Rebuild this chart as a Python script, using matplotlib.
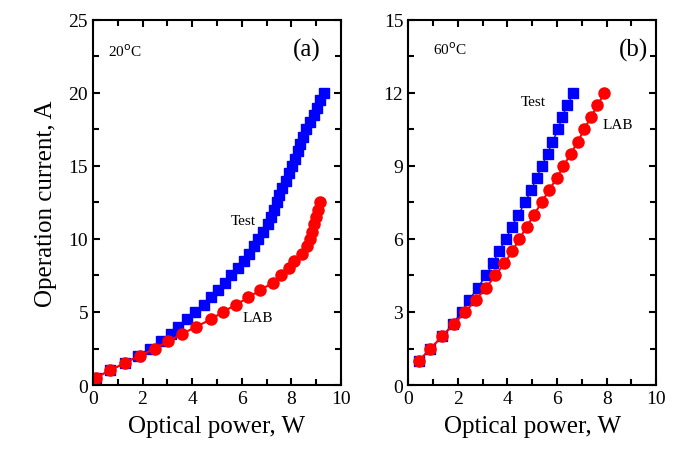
import matplotlib
matplotlib.use("Agg")
import matplotlib.pyplot as plt
from matplotlib.ticker import MultipleLocator

plt.rcParams["font.family"] = ["Liberation Serif", "DejaVu Serif"]

# Panel (a), 20 C
a_test_x = [0.12, 0.7, 1.3, 1.8, 2.3, 2.76, 3.15, 3.45, 3.8, 4.12,
            4.48, 4.77, 5.03, 5.31, 5.58, 5.85, 6.1, 6.3, 6.48, 6.65,
            6.85, 7.04, 7.17, 7.3, 7.4, 7.5, 7.63, 7.77, 7.9, 8.02,
            8.15, 8.25, 8.36, 8.48, 8.6, 8.76, 8.9, 9.02, 9.16, 9.33]
a_test_y = [0.5 * (i + 1) for i in range(40)]
a_lab_x = [0.12, 0.67, 1.28, 1.88, 2.49, 3.04, 3.6, 4.17, 4.76, 5.23,
           5.77, 6.26, 6.75, 7.24, 7.6, 7.9, 8.12, 8.42, 8.62, 8.74,
           8.82, 8.92, 8.99, 9.07, 9.17]
a_lab_y = [0.5 * (i + 1) for i in range(25)]

# Panel (b), 60 C
b_test_x = [0.44, 0.9, 1.37, 1.79, 2.15, 2.46, 2.8, 3.14, 3.41, 3.66,
            3.94, 4.17, 4.44, 4.71, 4.95, 5.18, 5.38, 5.62, 5.81, 6.05,
            6.19, 6.42, 6.66]
b_test_y = [1 + 0.5 * i for i in range(23)]
b_lab_x = [0.44, 0.9, 1.37, 1.84, 2.29, 2.73, 3.14, 3.51, 3.88, 4.2,
           4.48, 4.78, 5.07, 5.38, 5.67, 5.99, 6.26, 6.55, 6.84, 7.09,
           7.36, 7.63, 7.91]
b_lab_y = [1 + 0.5 * i for i in range(23)]

fig = plt.figure(figsize=(6.78, 4.56), dpi=100)
ax1 = fig.add_axes([0.137, 0.1535, 0.366, 0.8005])
ax2 = fig.add_axes([0.602, 0.1535, 0.366, 0.8005])


def style(ax, ymax, ymajor):
    ax.set_xlim(0, 10)
    ax.set_ylim(0, ymax)
    ax.xaxis.set_major_locator(MultipleLocator(2))
    ax.xaxis.set_minor_locator(MultipleLocator(1))
    ax.yaxis.set_major_locator(MultipleLocator(ymajor))
    ax.yaxis.set_minor_locator(MultipleLocator(ymajor / 2))
    ax.tick_params(which="both", direction="in", top=True, right=True,
                   width=1.5, labelsize=14)
    ax.tick_params(which="major", length=5)
    ax.tick_params(which="minor", length=4)
    for s in ax.spines.values():
        s.set_linewidth(1.5)
    ax.set_xlabel("Optical power, W", fontsize=18, labelpad=6)


for ax, tx, ty, lx, ly in [(ax1, a_test_x, a_test_y, a_lab_x, a_lab_y),
                           (ax2, b_test_x, b_test_y, b_lab_x, b_lab_y)]:
    ax.plot(tx, ty, "-s", color="#0000ff", markersize=6.5, linewidth=1)
    ax.plot(lx, ly, "-o", color="#ff0000", markersize=8, linewidth=1.5)

style(ax1, 25, 5)
style(ax2, 15, 3)
ax1.set_ylabel("Operation current, A", fontsize=18, labelpad=8)

ax1.text(0.6, 22.9, r"20$^{\rm o}$C", fontsize=11, va="center")
ax1.text(8.6, 23.0, "(a)", fontsize=18, ha="center", va="center")
ax1.text(6.05, 11.3, "Test", fontsize=11, ha="center", va="center")
ax1.text(6.65, 4.6, "LAB", fontsize=11, ha="center", va="center")

ax2.text(1.0, 13.8, r"60$^{\rm o}$C", fontsize=11, va="center")
ax2.text(9.1, 13.8, "(b)", fontsize=18, ha="center", va="center")
ax2.text(5.05, 11.65, "Test", fontsize=11, ha="center", va="center")
ax2.text(8.45, 10.7, "LAB", fontsize=11, ha="center", va="center")

fig.savefig("out.png", dpi=100)
